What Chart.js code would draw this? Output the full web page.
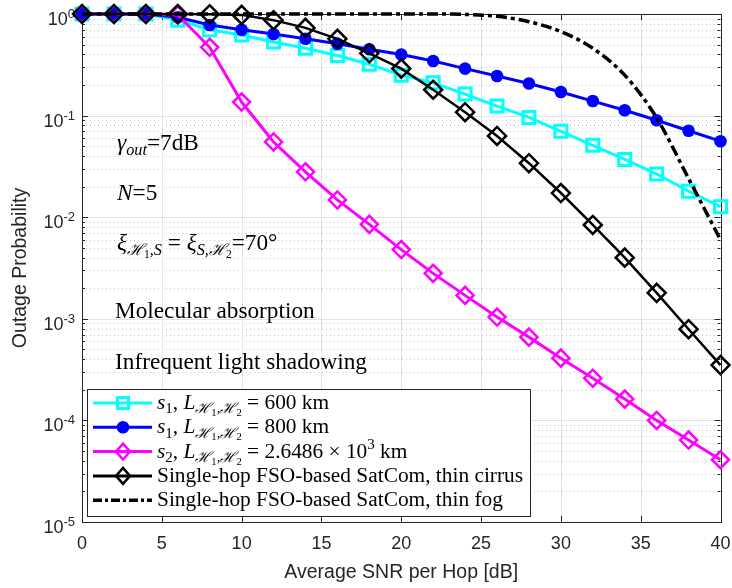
<!DOCTYPE html>
<html><head><meta charset="utf-8">
<script src="https://cdn.jsdelivr.net/npm/chart.js@4.4.0/dist/chart.umd.min.js"></script>
<style>html,body{margin:0;padding:0;background:#fff;}canvas{display:block}</style>
</head><body>
<canvas id="c" width="732" height="588"></canvas>
<script>
// ---- data ----
const snr = [0,2,4,6,8,10,12,14,16,18,20,22,24,26,28,30,32,34,36,38,40];
const s1_600km = [1,1,1,0.87,0.70,0.62,0.53,0.46,0.39,0.32,0.25,0.21,0.163,0.124,0.096,0.070,0.051,0.037,0.0266,0.018,0.0127];
const s1_800km = [1,1,1,0.93,0.78,0.70,0.635,0.57,0.51,0.45,0.40,0.345,0.29,0.245,0.207,0.171,0.139,0.113,0.090,0.071,0.056];
const s2_26486km = [1,1,1,0.98,0.47,0.136,0.055,0.028,0.0148,0.0085,0.0048,0.0028,0.0017,0.00104,0.00066,0.00041,0.00026,0.000162,0.0001,0.000064,0.000041];
const singleHopCirrus = [1,1,1,1,0.995,0.98,0.87,0.73,0.57,0.41,0.29,0.18,0.108,0.063,0.034,0.0173,0.0084,0.004,0.0018,0.00079,0.00035];
const singleHopFog = [1,1,1,1,1,1,1,1,1,1,1,1,0.99,0.95,0.84,0.67,0.46,0.25,0.095,0.024,0.006];
const xTickValues = [0,5,10,15,20,25,30,35,40];
const yTickExponents = [0,-1,-2,-3,-4,-5];
const xTitle = 'Average SNR per Hop [dB]';
const yTitle = 'Outage Probability';

const SERIF = '"Liberation Serif", "DejaVu Serif", serif';
const SANS = '"Liberation Sans", Arial, sans-serif';
const AX = '#262626';

function pts(ys){ return snr.map((x,i)=>({x:x,y:ys[i]})); }

function fontFor(st,lv,S){
  const sz = lv===0?S:(lv===1||lv===-1?S*0.7:S*0.5);
  return (st==='i'?'italic ':'')+sz.toFixed(2)+'px '+SERIF;
}
function drawRich(ctx, x, y, segs, S){
  ctx.textBaseline='alphabetic'; ctx.textAlign='left';
  for(const [t,st,lv] of segs){
    ctx.font = fontFor(st,lv,S);
    const dy = lv===0?0:(lv===1?S*0.2:(lv===2?S*0.33:-S*0.38));
    ctx.fillText(t,x,y+dy);
    x+=ctx.measureText(t).width;
  }
  return x;
}

const legendEntries = [
  {color:'#00FFFF', marker:'rect', dash:[], lw:3, segs:[['s','i',0],['1','r',1],[', ','r',0],['L','i',0],['ℋ','i',1],['1','r',2],[',','r',1],['ℋ','i',1],['2','r',2],[' = 600 km','r',0]]},
  {color:'#0000FF', marker:'circle', dash:[], lw:3, segs:[['s','i',0],['1','r',1],[', ','r',0],['L','i',0],['ℋ','i',1],['1','r',2],[',','r',1],['ℋ','i',1],['2','r',2],[' = 800 km','r',0]]},
  {color:'#FF00FF', marker:'diamond', dash:[], lw:3, segs:[['s','i',0],['2','r',1],[', ','r',0],['L','i',0],['ℋ','i',1],['1','r',2],[',','r',1],['ℋ','i',1],['2','r',2],[' = 2.6486 × 10','r',0],['3','r',-1],[' km','r',0]]},
  {color:'#000000', marker:'diamond', dash:[], lw:3, segs:[['Single-hop FSO-based SatCom, thin cirrus','r',0]]},
  {color:'#000000', marker:null, dash:[9,3,3,3], lw:3.5, segs:[['Single-hop FSO-based SatCom, thin fog','r',0]]}
];
const annotations = [
  {x:117, y:150, segs:[['γ','i',0],['out','i',1],['=7dB','r',0]]},
  {x:117, y:200, segs:[['N','i',0],['=5','r',0]]},
  {x:117, y:250, segs:[['ξ','i',0],['ℋ','i',1],['1','r',2],[',','r',1],['S','i',1],[' = ','r',0],['ξ','i',0],['S','i',1],[',','r',1],['ℋ','i',1],['2','r',2],['=70°','r',0]]},
  {x:115, y:318, segs:[['Molecular absorption','r',0]]},
  {x:115, y:369, segs:[['Infrequent light shadowing','r',0]]}
];

function drawMarker(ctx, kind, x, y, color){
  ctx.save(); ctx.strokeStyle=color; ctx.fillStyle=color; ctx.setLineDash([]);
  if(kind==='rect'){ ctx.lineWidth=3; ctx.strokeRect(x-5.5,y-5.5,11,11); }
  else if(kind==='circle'){ ctx.beginPath(); ctx.arc(x,y,6.3,0,Math.PI*2); ctx.fill(); }
  else if(kind==='diamond'){ ctx.lineWidth=2.5; ctx.beginPath(); ctx.moveTo(x,y-8); ctx.lineTo(x+7,y); ctx.lineTo(x,y+8); ctx.lineTo(x-7,y); ctx.closePath(); ctx.stroke(); }
  ctx.restore();
}

const framePlugin = {
  id:'frame',
  beforeDatasetsDraw(chart){
    const ctx=chart.ctx, a=chart.chartArea, xs=chart.scales.x, ys=chart.scales.y;
    ctx.save();
    ctx.strokeStyle='#c4c4c4'; ctx.lineWidth=1; ctx.setLineDash([1,3]);
    for(let e=-5;e<0;e++){ for(let m=2;m<=9;m++){
      const y=Math.round(ys.getPixelForValue(m*Math.pow(10,e)))+0.5;
      ctx.beginPath(); ctx.moveTo(a.left,y); ctx.lineTo(a.right,y); ctx.stroke();
    }}
    ctx.setLineDash([]);
    ctx.strokeStyle='#e2e2e2';
    for(const v of xTickValues){ const x=Math.round(xs.getPixelForValue(v))+0.5;
      ctx.beginPath(); ctx.moveTo(x,a.top); ctx.lineTo(x,a.bottom); ctx.stroke(); }
    for(const e of yTickExponents){ const y=Math.round(ys.getPixelForValue(Math.pow(10,e)))+0.5;
      ctx.beginPath(); ctx.moveTo(a.left,y); ctx.lineTo(a.right,y); ctx.stroke(); }
    ctx.strokeStyle=AX; ctx.lineWidth=1;
    ctx.strokeRect(Math.round(a.left)+0.5, Math.round(a.top)+0.5, Math.round(a.right-a.left), Math.round(a.bottom-a.top));
    ctx.beginPath();
    for(const v of xTickValues){ const x=Math.round(xs.getPixelForValue(v))+0.5;
      ctx.moveTo(x,a.bottom); ctx.lineTo(x,a.bottom-6); ctx.moveTo(x,a.top); ctx.lineTo(x,a.top+6); }
    for(let e=-5;e<=0;e++){ const y=Math.round(ys.getPixelForValue(Math.pow(10,e)))+0.5;
      ctx.moveTo(a.left,y); ctx.lineTo(a.left+6,y); ctx.moveTo(a.right,y); ctx.lineTo(a.right-6,y);
      if(e<0){ for(let m=2;m<=9;m++){ const yy=Math.round(ys.getPixelForValue(m*Math.pow(10,e)))+0.5;
        ctx.moveTo(a.left,yy); ctx.lineTo(a.left+3,yy); ctx.moveTo(a.right,yy); ctx.lineTo(a.right-3,yy);} }
    }
    ctx.stroke();
    ctx.fillStyle=AX; ctx.textBaseline='alphabetic';
    ctx.font='18px '+SANS; ctx.textAlign='center';
    for(const v of xTickValues){ ctx.fillText(String(v), xs.getPixelForValue(v), a.bottom+27); }
    for(const e of yTickExponents){
      const y=ys.getPixelForValue(Math.pow(10,e));
      const ex = e===0?'0':'-'+(-e);
      ctx.font='13px '+SANS; const we=ctx.measureText(ex).width;
      const right=75;
      ctx.textAlign='right'; ctx.fillText(ex, right, y+4);
      ctx.font='18px '+SANS; ctx.fillText('10', right-we, y+11);
    }
    ctx.textAlign='center';
    ctx.font='19.5px '+SANS; ctx.fillText(xTitle, (a.left+a.right)/2, 578);
    ctx.save(); ctx.translate(26, 268); ctx.rotate(-Math.PI/2); ctx.fillText(yTitle,0,0); ctx.restore();
    ctx.restore();
  },
  afterDatasetsDraw(chart){
    const ctx=chart.ctx;
    ctx.save(); ctx.fillStyle='#000';
    ctx.font='20px '+SERIF;
    const annS = 20*252/ctx.measureText('Infrequent light shadowing').width;
    for(const an of annotations) drawRich(ctx, an.x, an.y, an.segs, annS);
    ctx.font='20px '+SERIF;
    const legS = 20*366/ctx.measureText('Single-hop FSO-based SatCom, thin cirrus').width;
    const bx=87.5, by=389.5, bw=443, bh=127;
    ctx.fillStyle='#fff'; ctx.fillRect(bx,by,bw,bh);
    ctx.strokeStyle=AX; ctx.lineWidth=1; ctx.strokeRect(bx,by,bw,bh);
    legendEntries.forEach((en,i)=>{
      const y=403+i*24.3;
      ctx.save(); ctx.strokeStyle=en.color; ctx.lineWidth=en.lw; ctx.setLineDash(en.dash);
      ctx.beginPath(); ctx.moveTo(93,y); ctx.lineTo(152,y); ctx.stroke(); ctx.restore();
      if(en.marker) drawMarker(ctx,en.marker,123,y,en.color);
      ctx.fillStyle='#000';
      drawRich(ctx,157,y+6,en.segs,legS);
    });
    ctx.restore();
  }
};

const common = {clip:false, tension:0, fill:false};
new Chart(document.getElementById('c'), {
  type:'line',
  data:{datasets:[
    Object.assign({label:'s1 600', data:pts(s1_600km), borderColor:'#00FFFF', borderWidth:3, pointStyle:'rect', pointRadius:8.5, pointBorderWidth:3, pointBorderColor:'#00FFFF', pointBackgroundColor:'rgba(0,0,0,0)', order:5}, common),
    Object.assign({label:'s1 800', data:pts(s1_800km), borderColor:'#0000FF', borderWidth:3, pointStyle:'circle', pointRadius:6.3, pointBorderWidth:0, pointBackgroundColor:'#0000FF', order:4}, common),
    Object.assign({label:'s2', data:pts(s2_26486km), borderColor:'#FF00FF', borderWidth:3, pointStyle:'rectRot', pointRadius:8.5, pointBorderWidth:2.5, pointBorderColor:'#FF00FF', pointBackgroundColor:'rgba(0,0,0,0)', order:3}, common),
    Object.assign({label:'cirrus', data:pts(singleHopCirrus), borderColor:'#000000', borderWidth:2.5, pointStyle:'rectRot', pointRadius:9, pointBorderWidth:2.5, pointBorderColor:'#000000', pointBackgroundColor:'rgba(0,0,0,0)', order:2}, common),
    Object.assign({label:'fog', data:pts(singleHopFog), borderColor:'#000000', borderWidth:3.5, borderDash:[11,4,4,4], pointRadius:0, cubicInterpolationMode:'monotone', order:1}, common)
  ]},
  options:{
    responsive:false, animation:false, events:[],
    layout:{padding:{top:14,right:9,left:0,bottom:0}},
    plugins:{legend:{display:false}, tooltip:{enabled:false}},
    scales:{
      x:{type:'linear', min:0, max:40, ticks:{display:false}, grid:{display:false}, border:{display:false}, afterFit(s){s.height=66;}},
      y:{type:'logarithmic', min:1e-5, max:1, ticks:{display:false}, grid:{display:false}, border:{display:false}, afterFit(s){s.width=82;}}
    }
  },
  plugins:[framePlugin]
});
</script>
</body></html>
